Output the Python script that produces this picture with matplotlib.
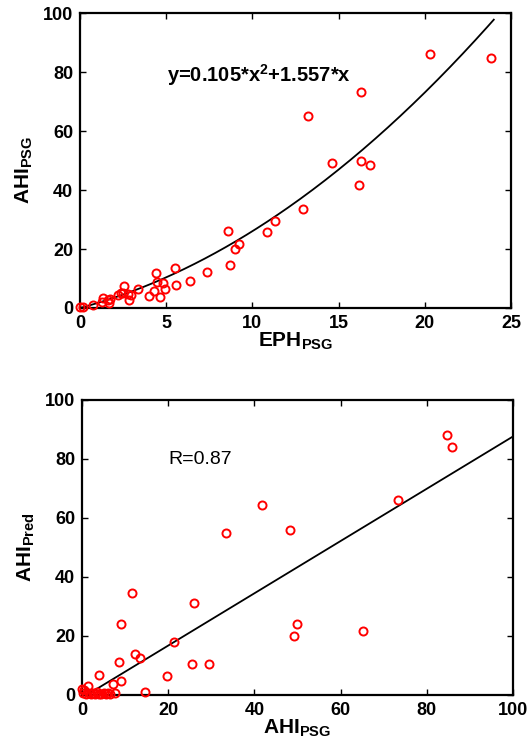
import matplotlib

matplotlib.use("Agg")
import matplotlib.pyplot as plt
import numpy as np

plt.rcParams["font.family"] = ["Liberation Sans", "DejaVu Sans"]
plt.rcParams["mathtext.fontset"] = "custom"
plt.rcParams["mathtext.rm"] = "Liberation Sans"
plt.rcParams["mathtext.bf"] = "Liberation Sans:bold"
plt.rcParams["mathtext.it"] = "Liberation Sans:italic"

# --- top panel: EPH vs AHI (PSG) ---
eph_psg = [0.0, 0.2, 0.77, 1.26, 1.35, 1.64, 1.70, 1.74, 2.22, 2.40, 2.51, 2.57,
           2.80, 2.86, 2.95, 3.38, 4.0, 4.29, 4.41, 4.49, 4.64, 4.79, 4.93,
           5.51, 5.57, 6.38, 7.39, 8.56, 8.70, 8.99, 9.22, 10.83, 11.31,
           12.95, 13.2, 14.64, 16.2, 16.28, 16.30, 16.84, 20.3, 23.84]
ahi_psg_top = [0.2, 0.3, 1.0, 2.2, 3.4, 2.7, 1.6, 3.0, 4.4, 5.0, 5.2, 7.5,
               4.8, 2.8, 4.4, 6.3, 4.2, 5.9, 11.9, 8.9, 3.8, 8.6, 6.3,
               13.7, 7.7, 9.3, 12.3, 26.2, 14.6, 19.9, 21.6, 25.7, 29.5,
               33.6, 65.3, 49.3, 41.7, 73.4, 49.9, 48.5, 86.1, 84.9]
fit_a, fit_b = 0.105, 1.557
fit_xmax = 24.0

# --- bottom panel: AHI PSG vs AHI predicted ---
ahi_psg = [0.0, 0.3, 0.5, 1.0, 1.3, 1.6, 2.0, 2.5, 3.0, 3.5, 3.9, 4.0, 4.5,
           5.0, 5.5, 6.0, 6.5, 7.3, 7.7, 8.6, 9.0, 9.1, 11.7, 12.2, 13.5,
           14.6, 19.8, 21.4, 25.5, 26.1, 29.5, 33.4, 41.7, 48.3, 49.2, 49.8,
           65.1, 73.3, 84.8, 85.9]
ahi_pred = [1.9, 0.6, 1.7, 0.3, 3.2, 0.6, 0.5, 0.8, 0.3, 1.0, 6.9, 0.5, 0.2,
            0.8, 0.4, 0.6, 0.2, 3.8, 0.6, 11.3, 4.7, 23.9, 34.7, 14.0, 12.4,
            1.1, 6.5, 17.9, 10.4, 31.1, 10.5, 54.8, 64.4, 55.9, 20.1, 24.1,
            21.6, 66.1, 88.0, 84.2]
reg_slope, reg_icept = 0.886, -0.97


def style_axes(ax):
    for s in ax.spines.values():
        s.set_linewidth(1.6)
    ax.tick_params(direction="in", top=True, right=True, length=4.5, width=1.0,
                   labelsize=13, pad=5)
    for lab in ax.get_xticklabels() + ax.get_yticklabels():
        lab.set_fontweight("bold")


fig = plt.figure(figsize=(5.31, 7.49), dpi=100)

ax1 = fig.add_axes([0.1507, 0.5888, 0.8117, 0.3934])
ax1.plot(eph_psg, ahi_psg_top, "o", mfc="none", mec="red", ms=5.8, mew=1.4,
         clip_on=False, zorder=3)
xf = np.linspace(0, fit_xmax, 200)
ax1.plot(xf, fit_a * xf**2 + fit_b * xf, color="black", lw=1.3)
ax1.set_xlim(0, 25)
ax1.set_ylim(0, 100)
ax1.set_xticks([0, 5, 10, 15, 20, 25])
ax1.set_yticks([0, 20, 40, 60, 80, 100])
style_axes(ax1)
ax1.text(5.05, 79, r"y=0.105*x$^\mathbf{2}$+1.557*x", fontsize=14.5, fontweight="bold",
         va="center", ha="left")
ax1.set_xlabel(r"$\mathbf{EPH_{PSG}}$", fontsize=15)
ax1.xaxis.labelpad = -1
ax1.set_ylabel(r"$\mathbf{AHI_{PSG}}$", fontsize=15)
ax1.yaxis.set_label_coords(-0.104, 0.47)

ax2 = fig.add_axes([0.1544, 0.0721, 0.8117, 0.3939])
ax2.plot(ahi_psg, ahi_pred, "o", mfc="none", mec="red", ms=5.8, mew=1.4,
         clip_on=False, zorder=3)
xr = np.array([0, 100])
ax2.plot(xr, reg_slope * xr + reg_icept, color="black", lw=1.3)
ax2.set_xlim(0, 100)
ax2.set_ylim(0, 100)
ax2.set_xticks([0, 20, 40, 60, 80, 100])
ax2.set_yticks([0, 20, 40, 60, 80, 100])
style_axes(ax2)
ax2.text(20, 79.7, "R=0.87", fontsize=14, va="center", ha="left")
ax2.set_xlabel(r"$\mathbf{AHI_{PSG}}$", fontsize=15)
ax2.xaxis.labelpad = -1
ax2.set_ylabel(r"$\mathbf{AHI_{Pred}}$", fontsize=15)
ax2.yaxis.set_label_coords(-0.104, 0.5)

fig.savefig("out.png", dpi=100)
